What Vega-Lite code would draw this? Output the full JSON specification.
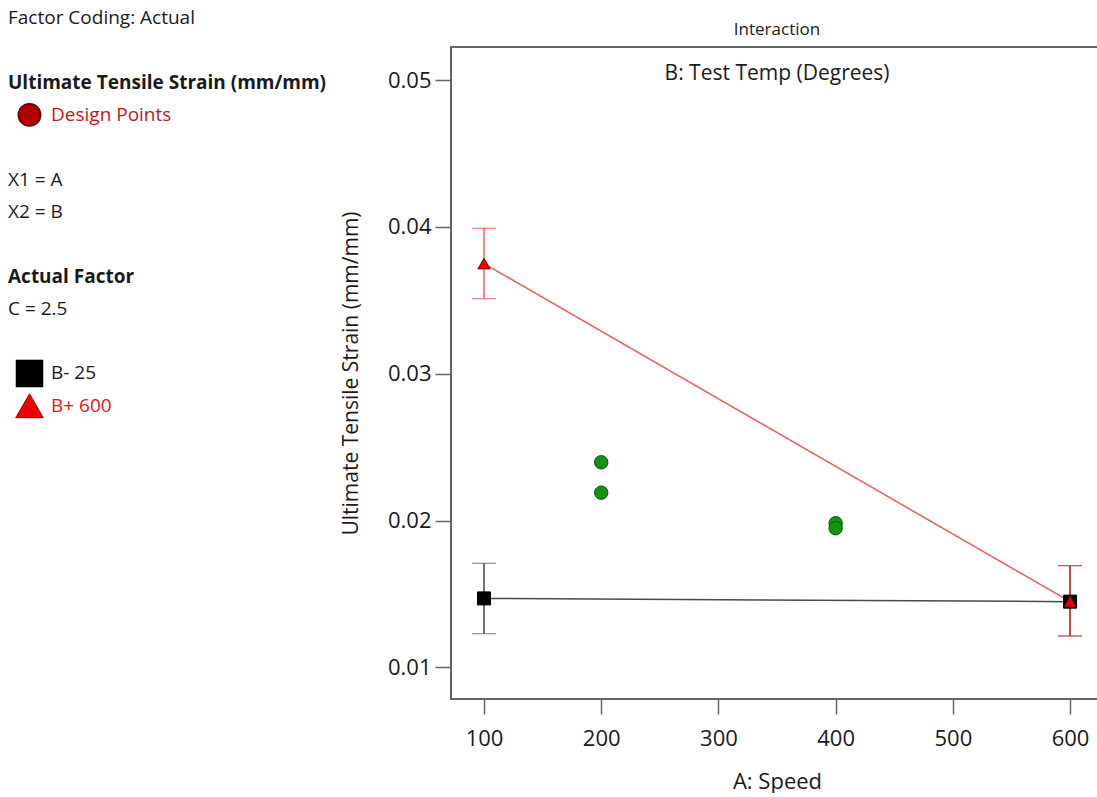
{
  "$schema": "https://vega.github.io/schema/vega-lite/v6.json",
  "autosize": {"type": "pad"},
  "padding": {"left": 0, "top": 8, "right": 0, "bottom": 0},
  "background": "white",
  "config": {
    "font": "Open Sans",
    "concat": {"spacing": 151},
    "title": {"font": "Open Sans"},
    "axis": {"labelFont": "Open Sans", "titleFont": "Open Sans"}
  },
  "bounds": "flush",
  "datasets": {
    "key": [
      {"line": 0, "col": 0, "text": "Factor Coding: Actual", "weight": "normal", "tone": "black"},
      {"line": 2, "col": 0, "text": "Ultimate Tensile Strain (mm/mm)", "weight": "bold", "tone": "black"},
      {"line": 3, "col": 2, "text": "Design Points", "weight": "normal", "tone": "darkred"},
      {"line": 5, "col": 0, "text": "X1 = A", "weight": "normal", "tone": "black"},
      {"line": 6, "col": 0, "text": "X2 = B", "weight": "normal", "tone": "black"},
      {"line": 8, "col": 0, "text": "Actual Factor", "weight": "bold", "tone": "black"},
      {"line": 9, "col": 0, "text": "C = 2.5", "weight": "normal", "tone": "black"},
      {"line": 11, "col": 2, "text": "B- 25", "weight": "normal", "tone": "black"},
      {"line": 12, "col": 2, "text": "B+ 600", "weight": "normal", "tone": "red"}
    ],
    "symbols": [
      {"line": 3, "col": 1, "symbol": "circle"},
      {"line": 11, "col": 1, "symbol": "square"},
      {"line": 12, "col": 1, "symbol": "triangle"}
    ],
    "cells": [
      {"series": "B- 25", "speed": 100, "mean": 0.0147, "lo": 0.0123, "hi": 0.0171},
      {"series": "B- 25", "speed": 600, "mean": 0.01448, "lo": 0.01214, "hi": 0.01693},
      {"series": "B+ 600", "speed": 100, "mean": 0.0375, "lo": 0.0351, "hi": 0.0399},
      {"series": "B+ 600", "speed": 600, "mean": 0.01448, "lo": 0.01214, "hi": 0.01693}
    ],
    "design": [
      {"speed": 200, "strain": 0.02397},
      {"speed": 200, "strain": 0.0219},
      {"speed": 400, "strain": 0.01982},
      {"speed": 400, "strain": 0.01948}
    ],
    "panel": [{"label": "B: Test Temp (Degrees)", "speed": 350, "strain": 0.0504}]
  },
  "hconcat": [
    {
      "width": 300,
      "height": 652,
      "view": {"stroke": null},
      "layer": [
        {
          "data": {"name": "key"},
          "transform": [{"filter": "datum.weight === 'normal'"}],
          "mark": {"type": "text", "align": "left", "baseline": "middle", "fontSize": 19},
          "encoding": {
            "x": {"field": "col", "type": "quantitative", "scale": {"domain": [-0.372, 13.58], "nice": false, "zero": false}, "axis": null},
            "y": {"field": "line", "type": "quantitative", "scale": {"domain": [0.9, 21.07], "nice": false, "zero": false, "reverse": true}, "axis": null},
            "text": {"field": "text"},
            "color": {"field": "tone", "type": "nominal", "scale": {"domain": ["black", "darkred", "red"], "range": ["#1a1a1a", "#c0161c", "#e8141c"]}, "legend": null}
          }
        },
        {
          "data": {"name": "key"},
          "transform": [{"filter": "datum.weight === 'bold'"}],
          "mark": {"type": "text", "align": "left", "baseline": "middle", "fontSize": 19, "fontWeight": "bold", "color": "#1a1a1a"},
          "encoding": {
            "x": {"field": "col", "type": "quantitative"},
            "y": {"field": "line", "type": "quantitative"},
            "text": {"field": "text"}
          }
        },
        {
          "data": {"name": "symbols"},
          "transform": [{"filter": "datum.symbol === 'circle'"}],
          "mark": {"type": "point", "shape": "circle", "filled": true, "size": 500, "color": "#b00000", "stroke": "#600000", "strokeWidth": 1.5, "opacity": 1},
          "encoding": {
            "x": {"field": "col", "type": "quantitative"},
            "y": {"field": "line", "type": "quantitative"}
          }
        },
        {
          "data": {"name": "symbols"},
          "transform": [{"filter": "datum.symbol === 'square'"}],
          "mark": {"type": "point", "shape": "square", "filled": true, "size": 760, "color": "#000000", "opacity": 1},
          "encoding": {
            "x": {"field": "col", "type": "quantitative"},
            "y": {"field": "line", "type": "quantitative"}
          }
        },
        {
          "data": {"name": "symbols"},
          "transform": [{"filter": "datum.symbol === 'triangle'"}],
          "mark": {"type": "point", "shape": "triangle-up", "filled": true, "size": 760, "color": "#ee0000", "stroke": "#b00000", "strokeWidth": 1, "opacity": 1},
          "encoding": {
            "x": {"field": "col", "type": "quantitative"},
            "y": {"field": "line", "type": "quantitative"}
          }
        }
      ]
    },
    {
      "width": 652,
      "height": 652,
      "title": {"text": "Interaction", "fontSize": 17, "fontWeight": "normal", "color": "#1a1a1a", "anchor": "middle", "frame": "group", "offset": 8},
      "view": {"stroke": "#666666", "strokeWidth": 2},
      "encoding": {
        "x": {"field": "speed", "type": "quantitative", "title": "A: Speed",
          "scale": {"domain": [71.84, 628.1], "nice": false, "zero": false},
          "axis": {"values": [100, 200, 300, 400, 500, 600], "grid": false, "domain": false, "tickSize": 15, "tickColor": "#666666", "tickWidth": 1.5, "labelFontSize": 22, "labelColor": "#1a1a1a", "labelPadding": 14, "titleFontSize": 22, "titleFontWeight": "normal", "titleColor": "#1a1a1a", "titlePadding": 22}}
      },
      "layer": [
        {
          "data": {"name": "cells"},
          "transform": [{"filter": "datum.series === 'B- 25'"}],
          "mark": {"type": "line", "strokeWidth": 1.5, "color": "#4a4a4a"},
          "encoding": {
            "y": {"field": "mean", "type": "quantitative", "title": "Ultimate Tensile Strain (mm/mm)",
              "scale": {"domain": [0.00785, 0.05225], "nice": false, "zero": false},
              "axis": {"values": [0.01, 0.02, 0.03, 0.04, 0.05], "format": ".2f", "grid": false, "domain": false, "tickSize": 16, "tickColor": "#666666", "tickWidth": 1.5, "labelFontSize": 22, "labelColor": "#1a1a1a", "labelPadding": 4, "titleFontSize": 21, "titleFontWeight": "normal", "titleColor": "#1a1a1a", "titlePadding": 26}}
          }
        },
        {
          "data": {"name": "cells"},
          "transform": [{"filter": "datum.series === 'B+ 600'"}],
          "mark": {"type": "line", "strokeWidth": 1.5, "color": "#f25a5a"},
          "encoding": {
            "y": {"field": "mean", "type": "quantitative", "title": "Ultimate Tensile Strain (mm/mm)"}
          }
        },
        {
          "data": {"name": "cells"},
          "transform": [{"filter": "datum.series === 'B- 25'"}],
          "mark": {"type": "errorbar", "color": "#444444", "ticks": {"size": 24}, "rule": {"strokeWidth": 1.5}},
          "encoding": {
            "y": {"field": "lo", "type": "quantitative", "title": "Ultimate Tensile Strain (mm/mm)"},
            "y2": {"field": "hi"}
          }
        },
        {
          "data": {"name": "cells"},
          "transform": [{"filter": "datum.series === 'B+ 600'"}],
          "mark": {"type": "errorbar", "color": "#ff2a2a", "opacity": 0.75, "ticks": {"size": 24}, "rule": {"strokeWidth": 1.5}},
          "encoding": {
            "y": {"field": "lo", "type": "quantitative", "title": "Ultimate Tensile Strain (mm/mm)"},
            "y2": {"field": "hi"}
          }
        },
        {
          "data": {"name": "design"},
          "mark": {"type": "point", "shape": "circle", "filled": true, "size": 180, "color": "#129412", "stroke": "#0a560a", "strokeWidth": 1, "opacity": 1},
          "encoding": {
            "y": {"field": "strain", "type": "quantitative", "title": "Ultimate Tensile Strain (mm/mm)"}
          }
        },
        {
          "data": {"name": "cells"},
          "transform": [{"filter": "datum.series === 'B- 25'"}],
          "mark": {"type": "point", "shape": "square", "filled": true, "size": 170, "color": "#000000", "stroke": "#000000", "strokeWidth": 1, "opacity": 1},
          "encoding": {
            "y": {"field": "mean", "type": "quantitative", "title": "Ultimate Tensile Strain (mm/mm)"}
          }
        },
        {
          "data": {"name": "cells"},
          "transform": [{"filter": "datum.series === 'B+ 600'"}],
          "mark": {"type": "point", "shape": "triangle-up", "filled": true, "size": 150, "color": "#ee0000", "stroke": "#7a0000", "strokeWidth": 1, "opacity": 1},
          "encoding": {
            "y": {"field": "mean", "type": "quantitative", "title": "Ultimate Tensile Strain (mm/mm)"}
          }
        },
        {
          "data": {"name": "panel"},
          "mark": {"type": "text", "fontSize": 21, "color": "#1a1a1a", "baseline": "middle", "align": "center"},
          "encoding": {
            "y": {"field": "strain", "type": "quantitative", "title": "Ultimate Tensile Strain (mm/mm)"},
            "text": {"field": "label"}
          }
        }
      ]
    }
  ]
}
